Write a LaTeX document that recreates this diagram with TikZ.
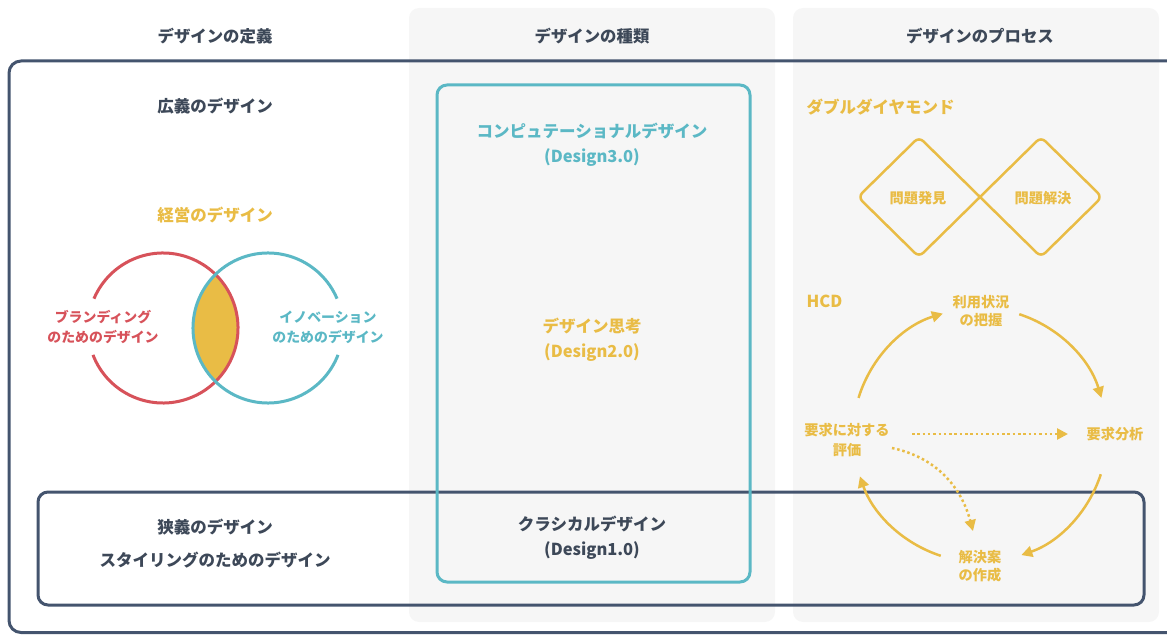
\documentclass[tikz,border=0pt]{standalone}
\usepackage{fontspec}
\setmainfont{Noto Sans CJK JP}
\usetikzlibrary{arrows.meta}
\definecolor{txtdark}{HTML}{3D4858}
\definecolor{boxdark}{HTML}{44546E}
\definecolor{yel}{HTML}{E9BC45}
\definecolor{redc}{HTML}{D7525A}
\definecolor{tealc}{HTML}{5BB8C5}
\definecolor{bggray}{HTML}{F6F6F6}
\begin{document}
\begin{tikzpicture}[x=1pt,y=1pt,
  colbg/.style={fill=bggray, draw=none, rounded corners=10},
  framebox/.style={draw=boxdark, line width=3, rounded corners=12},
  tealbox/.style={draw=tealc, line width=3, rounded corners=10},
  hdr/.style={font=\fontsize{16.4}{18}\selectfont\bfseries, text=txtdark},
  big/.style={font=\fontsize{16.5}{25}\selectfont\bfseries, align=center},
  small/.style={font=\fontsize{14.2}{19}\selectfont\bfseries, align=center, text=yel},
  venn/.style={font=\fontsize{13.9}{20}\selectfont\bfseries, align=center},
  cyc/.style={draw=yel, line width=2.5, -{Triangle[length=11pt,width=11pt]}},
  dotarrow/.style={draw=yel, line width=2.5, dash pattern=on 2.5pt off 2.8pt, -{Triangle[length=11pt,width=11pt]}},
  dia/.style={draw=yel, line width=2.5, line cap=round, line join=round}
]
\useasboundingbox (0,0) rectangle (1167,635);
\clip (0,0) rectangle (1167,635);

% column backgrounds
\path[colbg] (409,13) rectangle (775,627);
\path[colbg] (793,13) rectangle (1159,627);

% headers
\node[hdr] (h1) at (215,599) {デザインの定義};
\node[hdr] (h2) at (592,599) {デザインの種類};
\node[hdr] (h3) at (980,599) {デザインのプロセス};

% frames
\draw[framebox] (9,2.5) rectangle (1185,574);
\draw[framebox, rounded corners=10] (38,30) rectangle (1144,143);

% column 1
\node[big, text=txtdark] (wide) at (215,529) {広義のデザイン};
\node[big, text=yel] (mgmt) at (215,420) {経営のデザイン};

\begin{scope}
  \clip (163,307) circle (75);
  \fill[yel] (268,307) circle (75);
\end{scope}
\draw[redc, line width=3] (163,307) ++(-159:75) arc[start angle=-159, end angle=157, radius=75];
\draw[tealc, line width=3] (268,307) ++(23:75) arc[start angle=23, end angle=339, radius=75];
\node[venn, text=redc] (brand) at (103,308) {ブランディング\\のためのデザイン};
\node[venn, text=tealc] (innov) at (328,308) {イノベーション\\のためのデザイン};

\node[big, text=txtdark] (narrow) at (215,108) {狭義のデザイン};
\node[big, text=txtdark] (styling) at (215,75) {スタイリングのためのデザイン};

% column 2
\draw[tealbox] (437,53) rectangle (750,550);
\node[big, text=tealc] (d3) at (592,490.5) {コンピュテーショナルデザイン\\(Design3.0)};
\node[big, text=yel] (d2) at (592,295.5) {デザイン思考\\(Design2.0)};
\node[big, text=txtdark] (d1) at (592,97.5) {クラシカルデザイン\\(Design1.0)};

% column 3 : double diamond
\node[big, text=yel, anchor=west] (dd) at (803,528) {ダブルダイヤモンド};
\draw[dia] (980,438) [rounded corners=6] -- (919,498) -- (858,438) -- (919,378) [sharp corners] -- (980,438);
\draw[dia] (980,438) [rounded corners=6] -- (1041,498) -- (1102,438) -- (1041,378) [sharp corners] -- (980,438);
\node[small] (find) at (918,437) {問題発見};
\node[small] (solve) at (1043,437) {問題解決};

% HCD
\node[big, text=yel, anchor=west] (hcd) at (803,334) {HCD};
\node[small, font=\fontsize{14.2}{18.5}\selectfont\bfseries] (ctx) at (981,324) {利用状況\\の把握};
\node[small] (req) at (1115,201) {要求分析};
\node[small, font=\fontsize{14.2}{18.5}\selectfont\bfseries] (sol) at (980,69) {解決案\\の作成};
\node[small, font=\fontsize{14.2}{20}\selectfont\bfseries] (eval) at (847,195) {要求に対する\\評価};

\coordinate (C) at (980,200);
\path (C) ++(163:127) coordinate (a1);
\path (C) ++(72:127) coordinate (a2);
\path (C) ++(-18:127) coordinate (a3);
\path (C) ++(-108:127) coordinate (a4);
\draw[cyc] (a1) arc[start angle=163, end angle=107, radius=127];
\draw[cyc] (a2) arc[start angle=72, end angle=17, radius=127];
\draw[cyc] (a3) arc[start angle=-18, end angle=-71, radius=127];
\draw[cyc] (a4) arc[start angle=-108, end angle=-161, radius=127];

\coordinate (e1) at (912,201);
\coordinate (e2) at (1068,201);
\draw[dotarrow] (e1) -- (e2);
\coordinate (f1) at (892,187);
\coordinate (f2) at (973,104);
\draw[dotarrow] (f1) to[out=-12, in=105] (f2);
\end{tikzpicture}
\end{document}
